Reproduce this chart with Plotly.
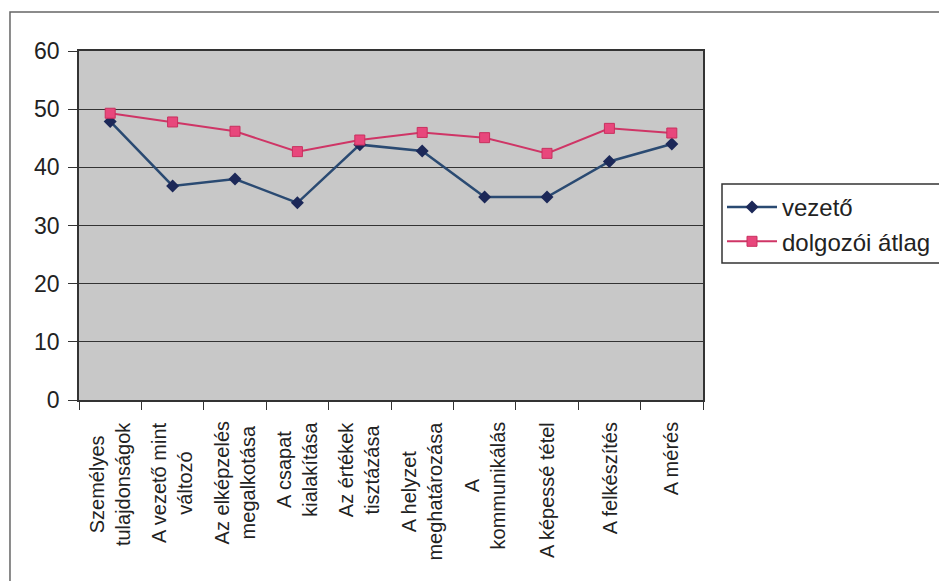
import plotly.graph_objects as go

categories = [
    "Személyes<br>tulajdonságok",
    "A vezető mint<br>változó",
    "Az elképzelés<br>megalkotása",
    "A csapat<br>kialakítása",
    "Az értékek<br>tisztázása",
    "A helyzet<br>meghatározása",
    "A<br>kommunikálás",
    "A képessé tétel",
    "A felkészítés",
    "A mérés",
]
vezeto = [47.9, 36.8, 38.0, 33.9, 43.9, 42.8, 34.9, 34.9, 41.0, 44.0]
dolgozoi_atlag = [49.3, 47.8, 46.2, 42.7, 44.7, 46.0, 45.1, 42.4, 46.7, 45.9]
y_ticks = [0, 10, 20, 30, 40, 50, 60]

FONT = "Liberation Sans, Arial, sans-serif"

fig = go.Figure()
fig.add_trace(go.Scatter(
    x=categories, y=vezeto, name="vezető", mode="lines+markers",
    line=dict(color="#2a4a72", width=2.5),
    marker=dict(symbol="diamond", size=10, color="#1c2858",
                line=dict(color="#1c2858", width=0)),
))
fig.add_trace(go.Scatter(
    x=categories, y=dolgozoi_atlag, name="dolgozói átlag", mode="lines+markers",
    line=dict(color="#cf3566", width=2),
    marker=dict(symbol="square", size=10, color="#e8477c",
                line=dict(color="#c8305e", width=1)),
))

# category labels, centred multi-line, rotated like the original
for c in categories:
    fig.add_annotation(
        x=c, xref="x", y=-0.057, yref="paper",
        text=c, textangle=-90, showarrow=False,
        xanchor="center", yanchor="top", align="center",
        font=dict(size=20, family=FONT, color="#222222"),
    )

# outer chart frame
fig.add_shape(type="rect", xref="paper", yref="paper",
              x0=-0.1106, x1=1.7, y0=-0.8, y1=1.1117,
              line=dict(color="#666666", width=1.5), fillcolor="rgba(0,0,0,0)",
              layer="below")
# legend box (runs past the right edge, as in the original)
fig.add_shape(type="rect", xref="paper", yref="paper",
              x0=(722 - 79) / 624, x1=1.6,
              y0=(400 - 263) / 349, y1=(400 - 184) / 349,
              line=dict(color="#333333", width=1.5), fillcolor="#ffffff",
              layer="above")

fig.update_layout(
    width=939, height=581,
    margin=dict(l=79, r=236, t=51, b=181, autoexpand=False),
    paper_bgcolor="#ffffff",
    plot_bgcolor="#c8c8c8",
    font=dict(family=FONT, color="#222222"),
    showlegend=True,
    legend=dict(
        x=(722 - 79) / 624, xanchor="left",
        y=(400 - 185) / 349, yanchor="top",
        bgcolor="rgba(0,0,0,0)", borderwidth=0,
        font=dict(size=24, family=FONT, color="#222222"),
        itemwidth=50,
    ),
    xaxis=dict(
        type="category", range=[-0.5, 9.5],
        tickson="boundaries", ticks="outside", ticklen=8,
        tickcolor="#333333", tickwidth=1, showticklabels=False,
        showgrid=False, showline=True, linecolor="#333333", linewidth=1.5,
        mirror=True, zeroline=False,
    ),
    yaxis=dict(
        range=[0, 60], tickvals=y_ticks, ticks="outside", ticklen=9,
        tickcolor="#333333", tickwidth=1, ticklabelstandoff=4,
        tickfont=dict(size=23, family=FONT, color="#222222"),
        showgrid=True, gridcolor="#333333", gridwidth=1,
        showline=True, linecolor="#333333", linewidth=1.5, mirror=True,
        zeroline=False,
    ),
)

fig.write_html("out.html")
